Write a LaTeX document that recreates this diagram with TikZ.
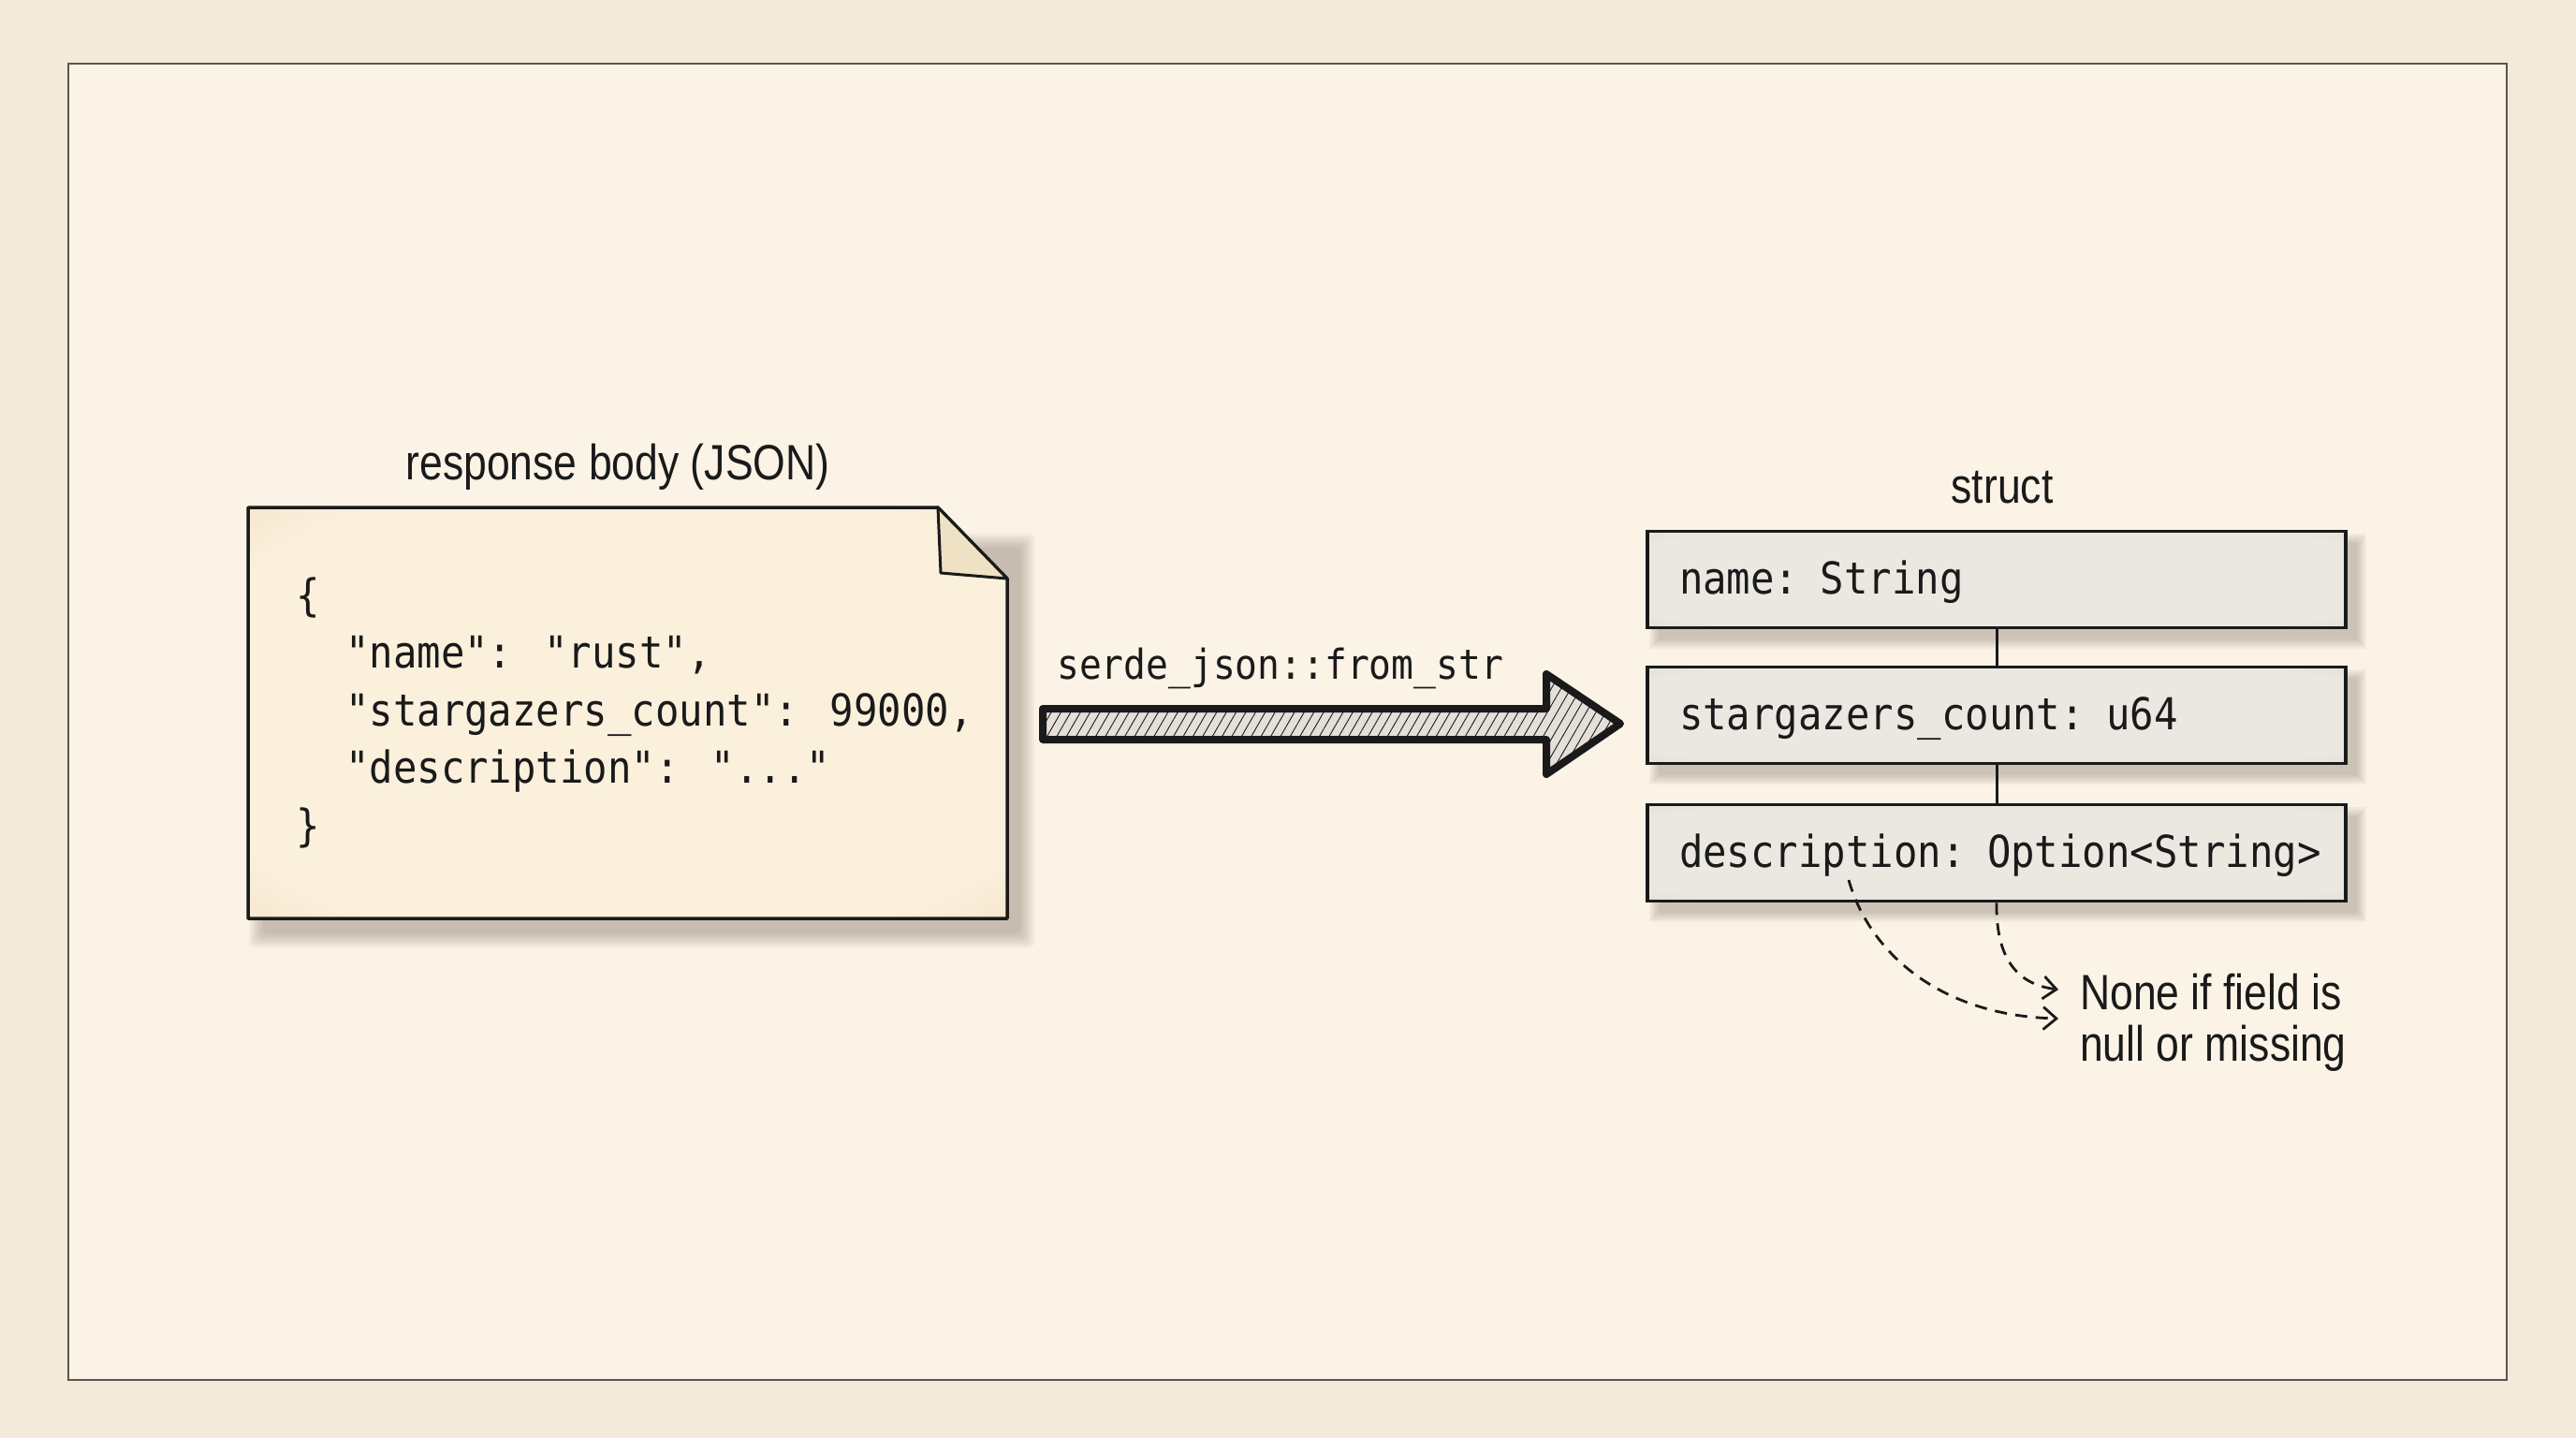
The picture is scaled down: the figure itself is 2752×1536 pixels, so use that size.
\documentclass[tikz,border=0pt]{standalone}
\usepackage{fontspec}
\newfontfamily\labelfont[FakeStretch=0.84]{Liberation Sans}
\newfontfamily\codefont[FakeStretch=0.9]{DejaVu Sans Mono}
\usetikzlibrary{arrows.meta,patterns.meta}
\definecolor{bgout}{HTML}{F3EADA}
\definecolor{bgin}{HTML}{FAF3E6}
\definecolor{framec}{HTML}{5A554F}
\definecolor{ink}{HTML}{1A1A1A}
\definecolor{notecream}{HTML}{FAF0DC}
\definecolor{notetan}{HTML}{E6D0A8}
\definecolor{foldc}{HTML}{EFE1C4}
\definecolor{boxlight}{HTML}{EBE8E2}
\definecolor{boxdark}{HTML}{D5D1C9}
\definecolor{shadowc}{HTML}{6B6152}
\definecolor{arrowfill}{HTML}{E4E0D9}
\pgfdeclareradialshading{notesh}{\pgfpoint{0bp}{0bp}}{color(0bp)=(notecream); color(30bp)=(notecream); color(50bp)=(notetan); color(75bp)=(notetan)}
\pgfdeclareradialshading{boxsh}{\pgfpoint{0bp}{0bp}}{color(0bp)=(boxlight); color(30bp)=(boxlight); color(50bp)=(boxdark); color(75bp)=(boxdark)}
\begin{document}
\begin{tikzpicture}[x=1pt,y=-1pt,
  labeltext/.style={inner sep=0pt, text=ink, font=\labelfont\fontsize{53}{60}\selectfont},
  codetext/.style={inner sep=0pt, text=ink, font=\codefont\fontsize{47}{55}\selectfont},
  fieldbox/.style={draw=ink, line width=3.5pt, shading=boxsh, minimum width=746pt, minimum height=103pt,
    text width=678pt, align=left, inner xsep=34pt, inner ysep=0pt, text=ink,
    font=\codefont\fontsize{47}{55}\selectfont, text height=34pt, text depth=4pt},
  dashline/.style={draw=ink, line width=2.8pt, dash pattern=on 13pt off 9pt,
    -{Straight Barb[length=14pt,width=24pt,line width=2.8pt]}},
  linkline/.style={draw=ink, line width=3pt}
]
\useasboundingbox (0,0) rectangle (2752,1536);
\fill[bgout] (0,0) rectangle (2752,1536);
\fill[bgin] (73,68) rectangle (2678,1474);
\draw[framec, line width=2pt] (73,68) rectangle (2678,1474);

% ---------- JSON note ----------
\foreach \k in {0,...,6}
  \fill[shadowc, opacity=0.06, rounded corners=6pt] ({281-\k*2.5},{585-\k*2.5}) rectangle ({1090+\k*2.5},{997+\k*2.5});
\path[shading=notesh, draw=ink, line width=3.5pt, line join=round]
  (265,542) -- (1002,542) -- (1076,618) -- (1076,981) -- (265,981) -- cycle;
\filldraw[fill=foldc, draw=ink, line width=3pt, line join=round]
  (1002,542) -- (1005,612) -- (1076,618) -- cycle;

\node[labeltext, anchor=base] (jsonlabel) at (660,512) {response body (JSON)};
\node[codetext, anchor=base west] (j1) at (316,652) {\{};
\node[codetext, anchor=base west] (j2) at (369,713) {"name": "rust",};
\node[codetext, anchor=base west] (j3) at (369,775) {"stargazers\_count": 99000,};
\node[codetext, anchor=base west] (j4) at (369,836) {"description": "..."};
\node[codetext, anchor=base west] (j5) at (316,898) {\}};

% ---------- block arrow ----------
\path[fill=arrowfill, postaction={pattern={Lines[angle=60,distance=9pt,line width=0.9pt]}, pattern color=ink},
      draw=ink, line width=8pt, line join=round]
  (1114,757) -- (1652,757) -- (1652,720) -- (1731,773) -- (1652,827) -- (1652,790) -- (1114,790) -- cycle;
\node[codetext, font=\codefont\fontsize{44}{52}\selectfont, anchor=base west] (fromstr) at (1129,725) {serde\_json::from\_str};

% ---------- struct ----------
\node[labeltext, anchor=base] (structlabel) at (2139,537) {struct};
\foreach \cy in {619,764,911}
  \foreach \k in {0,...,5}
    \fill[shadowc, opacity=0.06] ({1772-\k*2},{\cy-39-\k*2}) rectangle ({2518+\k*2},{\cy+64+\k*2});
\node[fieldbox] (f1) at (2133,619) {\mbox{name: String}};
\node[fieldbox] (f2) at (2133,764) {\mbox{stargazers\_count: u64}};
\node[fieldbox] (f3) at (2133,911) {\mbox{description: Option<String>}};
\draw[linkline] (f1.south) -- (f2.north);
\draw[linkline] (f2.south) -- (f3.north);

% ---------- note on None ----------
\node[labeltext, anchor=base west] (none1) at (2222,1078) {None if field is};
\node[labeltext, anchor=base west] (none2) at (2222,1133) {null or missing};
\coordinate (d1s) at (1975,940);
\coordinate (d1e) at (2199,1088);
\coordinate (d2e) at (2199,1057);
\draw[dashline] (d1s) .. controls (1998,1020) and (2075,1085) .. (d1e);
\draw[dashline] (f3.south) .. controls (2132,1030) and (2160,1052) .. (d2e);
\end{tikzpicture}
\end{document}
